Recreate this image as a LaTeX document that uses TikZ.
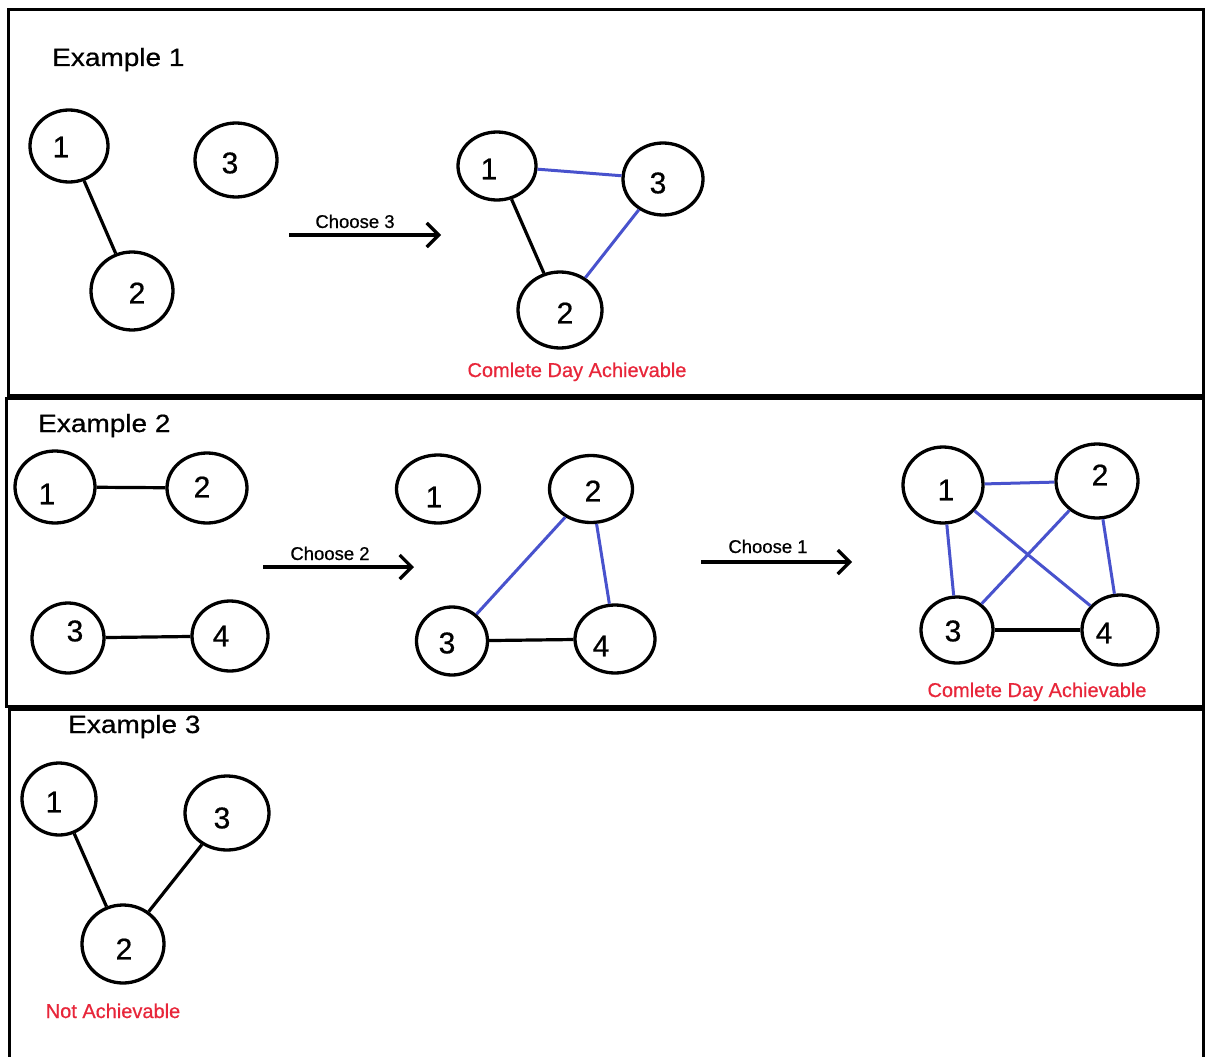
\documentclass[tikz,border=0pt]{standalone}
\usepackage{fontspec}
\setmainfont{Liberation Sans}
\newfontfamily\semib[FakeBold=0.6]{Liberation Sans}
\usetikzlibrary{shapes.geometric,arrows.meta}
\definecolor{edgeblue}{RGB}{72,82,205}
\definecolor{notered}{RGB}{232,38,58}
\begin{document}
\begin{tikzpicture}[x=1pt,y=-1pt,
  frame/.style={draw=black,line width=3pt},
  vtx/.style 2 args={draw=black,ellipse,line width=3.3pt,inner sep=0pt,
     minimum width=#1pt,minimum height=#2pt},
  num/.style={font=\semib\fontsize{30}{30}\selectfont,inner sep=0pt},
  title/.style={anchor=base west,inner sep=0pt,font=\semib\fontsize{25}{25}\selectfont},
  chooselbl/.style={anchor=base,inner sep=0pt,font=\semib\fontsize{18.5}{18.5}\selectfont},
  redlbl/.style={anchor=base,inner sep=0pt,text=notered,font=\semib\fontsize{20}{20}\selectfont},
  bedge/.style={draw=black,line width=3.2pt},
  uedge/.style={draw=edgeblue,line width=3pt},
  steparrow/.style={draw=black,line width=3.2pt,-{Straight Barb[length=12pt,width=24pt,line width=3.2pt]}}
]
\useasboundingbox (0,0) rectangle (1205,1057);
\fill[white] (0,0) rectangle (1205,1057);

% panels
\draw[frame] (8,10) rectangle (1203,395);
\draw[frame] (6,398) rectangle (1203,706);
\draw[frame] (9,1060) -- (9,709) -- (1203,709) -- (1203,1060);

% ---------------- Example 1 ----------------
\node[title] (t1) at (52,66) {\scalebox{1.12}[1]{Example 1}};

\node[vtx={78}{72},label={[num,xshift=-8pt,yshift=-1pt]center:1}] (a1) at (69,146) {};
\node[vtx={82}{78},label={[num,xshift=5pt,yshift=-2pt]center:2}] (a2) at (132,291) {};
\node[vtx={82}{74},label={[num,xshift=-6pt,yshift=-3pt]center:3}] (a3) at (236,160) {};
\draw[bedge] (a1) -- (a2);

\coordinate (ar1s) at (289,235);
\coordinate (ar1e) at (441,235);
\draw[steparrow] (ar1s) -- (ar1e);
\node[chooselbl] (c3lbl) at (355,228) {Choose 3};

\node[vtx={78}{68},label={[num,xshift=-8pt,yshift=-3pt]center:1}] (b1) at (497,166) {};
\node[vtx={80}{72},label={[num,xshift=-5pt,yshift=-4pt]center:3}] (b3) at (663,179) {};
\node[vtx={84}{76},label={[num,xshift=5pt,yshift=-3pt]center:2}] (b2) at (560,310) {};
\draw[bedge] (b1) -- (b2);
\draw[uedge] (b1) -- (b3);
\draw[uedge] (b3) -- (b2);
\node[redlbl] (r1) at (577,377) {Comlete Day Achievable};

% ---------------- Example 2 ----------------
\node[title] (t2) at (38,432) {\scalebox{1.12}[1]{Example 2}};

\node[vtx={80}{72},label={[num,xshift=-8pt,yshift=-7pt]center:1}] (c1) at (55,487) {};
\node[vtx={80}{70},label={[num,xshift=-5pt,yshift=1pt]center:2}] (c2) at (207,488) {};
\node[vtx={72}{70},label={[num,xshift=7pt,yshift=7pt]center:3}] (c3) at (68,638) {};
\node[vtx={76}{70},label={[num,xshift=-9pt,yshift=0pt]center:4}] (c4) at (230,636) {};
\draw[bedge] (c1) -- (c2);
\draw[bedge] (c3) -- (c4);

\coordinate (ar2s) at (263,567);
\coordinate (ar2e) at (414,567);
\draw[steparrow] (ar2s) -- (ar2e);
\node[chooselbl] (c2lbl) at (330,560) {Choose 2};

\node[vtx={83}{68},label={[num,xshift=-4pt,yshift=-8pt]center:1}] (d1) at (438,489) {};
\node[vtx={83}{67},label={[num,xshift=2pt,yshift=-2pt]center:2}] (d2) at (591,489) {};
\node[vtx={71}{68},label={[num,xshift=-5pt,yshift=-2pt]center:3}] (d3) at (452,641) {};
\node[vtx={80}{68},label={[num,xshift=-14pt,yshift=-7pt]center:4}] (d4) at (615,639) {};
\draw[uedge] (d2) -- (d3);
\draw[uedge] (d2) -- (d4);
\draw[bedge] (d3) -- (d4);

\coordinate (ar3s) at (701,562);
\coordinate (ar3e) at (852,562);
\draw[steparrow] (ar3s) -- (ar3e);
\node[chooselbl] (c1lbl) at (768,553) {Choose 1};

\node[vtx={80}{76},label={[num,xshift=3pt,yshift=-5pt]center:1}] (e1) at (943,485) {};
\node[vtx={82}{74},label={[num,xshift=3pt,yshift=6pt]center:2}] (e2) at (1097,481) {};
\node[vtx={72}{66},label={[num,xshift=-4pt,yshift=-1pt]center:3}] (e3) at (957,630) {};
\node[vtx={76}{70},label={[num,xshift=-16pt,yshift=-3pt]center:4}] (e4) at (1120,630) {};
\draw[uedge] (e1) -- (e2);
\draw[uedge] (e1) -- (e3);
\draw[uedge] (e1) -- (e4);
\draw[uedge] (e2) -- (e3);
\draw[uedge] (e2) -- (e4);
\draw[bedge] (e3) -- (e4);
\node[redlbl] (r2) at (1037,697) {Comlete Day Achievable};

% ---------------- Example 3 ----------------
\node[title] (t3) at (68,733) {\scalebox{1.12}[1]{Example 3}};

\node[vtx={74}{72},label={[num,xshift=-5pt,yshift=-3pt]center:1}] (f1) at (59,799) {};
\node[vtx={84}{74},label={[num,xshift=-5pt,yshift=-5pt]center:3}] (f3) at (227,813) {};
\node[vtx={82}{78},label={[num,xshift=1pt,yshift=-5pt]center:2}] (f2) at (123,944) {};
\draw[bedge] (f1) -- (f2);
\draw[bedge] (f3) -- (f2);
\node[redlbl] (r3) at (113,1018) {Not Achievable};
\end{tikzpicture}
\end{document}
